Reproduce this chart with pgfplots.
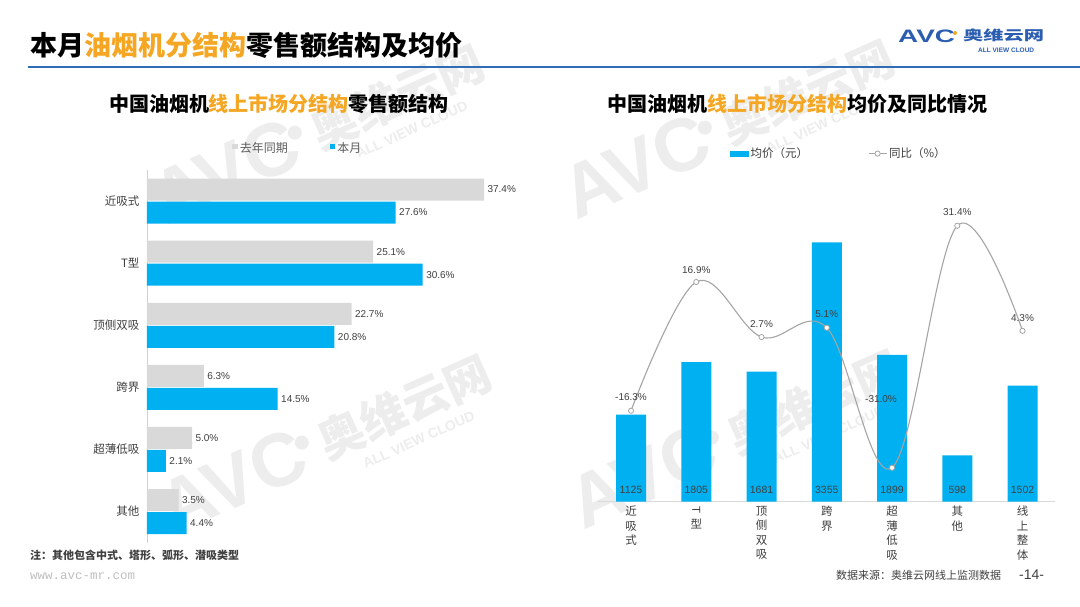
\documentclass[border=0pt]{standalone}
\usepackage{graphicx}
\usepackage{pgfplots}
\pgfplotsset{compat=1.18}
\usepackage{pgfplotstable}
\usepackage{fontspec}
\setmainfont{Noto Sans CJK SC}
\newfontfamily\lat{Liberation Sans}
\newfontfamily\mono{Liberation Mono}
\definecolor{barblue}{HTML}{00B0F0}
\definecolor{bargray}{HTML}{D9D9D9}
\definecolor{orng}{HTML}{F5A623}
\definecolor{lineblue}{HTML}{2E6DB4}
\definecolor{logoblue}{HTML}{2B5DB0}
\definecolor{txt}{HTML}{404040}
\definecolor{linegray}{HTML}{A5A5A5}
\definecolor{wmc}{HTML}{EDEDED}

\pgfplotstableread{
x y dy dx
0 -16.3 6 0
1 16.9 5 0
2 2.7 6 0
3 5.1 6 0
4 -31.0 61 -11
5 31.4 6 0
6 4.3 6 0
}\yoy
\pgfplotstableread{
x v
0 1125
1 1805
2 1681
3 3355
4 1899
5 598
6 1502
}\price

\newcommand{\wm}[2]{%
\begin{scope}[shift={(#1pt,-#2pt)},rotate=24,transform shape]
\node[text=wmc,font=\lat\bfseries\fontsize{75}{75}\selectfont,inner sep=0] at (-52pt,0pt) {AVC};
\fill[wmc] (27pt,7pt) circle (7pt);
\node[text=wmc,font=\bfseries\fontsize{46}{46}\selectfont,inner sep=0] at (135pt,-2pt) {奥维云网};
\node[text=wmc,font=\lat\bfseries\fontsize{14}{14}\selectfont,inner sep=0] at (135pt,-38pt) {ALL VIEW CLOUD};
\end{scope}}

\begin{document}
\begin{tikzpicture}
\fill[white] (0pt,0pt) rectangle (1080pt,-607pt);
\path[use as bounding box] (0pt,0pt) rectangle (1080pt,-607pt);

% watermarks
\wm{280}{460}
\wm{273}{150}
\wm{683}{145}
\wm{690}{455}

% header
\node[anchor=base west, inner sep=0, font=\bfseries\fontsize{27}{27}\selectfont] at (30pt,-56pt) {本月\textcolor{orng}{油烟机分结构}零售额结构及均价};
\draw[lineblue, line width=2.5pt] (28pt,-67pt) -- (1080pt,-67pt);

% logo
\node[anchor=south west, inner sep=0, text=logoblue] at (898pt,-43pt) {\scalebox{1.55}[1]{\lat\bfseries\fontsize{18}{18}\selectfont AVC}};
\fill[orng] (955pt,-33pt) circle (2pt);
\node[anchor=west, inner sep=0, text=logoblue] at (963pt,-35pt) {\scalebox{1.5}[1]{\bfseries\fontsize{13.5}{13.5}\selectfont 奥维云网}};
\node[anchor=west, inner sep=0, text=logoblue, font=\lat\bfseries\fontsize{6.5}{6.5}\selectfont] at (978pt,-50pt) {ALL VIEW CLOUD};

% chart titles
\node[inner sep=0, font=\bfseries\fontsize{20}{20}\selectfont] at (279pt,-104pt) {中国油烟机\textcolor{orng}{线上市场分结构}零售额结构};
\node[inner sep=0, font=\bfseries\fontsize{20}{20}\selectfont] at (797.5pt,-104pt) {中国油烟机\textcolor{orng}{线上市场分结构}均价及同比情况};

% footer
\node[anchor=west, inner sep=0, font=\bfseries\fontsize{11}{11}\selectfont, text=txt] at (30pt,-555pt) {注：其他包含中式、塔形、弧形、潜吸类型};
\node[anchor=west, inner sep=0, font=\mono\fontsize{12.5}{12.5}\selectfont, text=black!25] at (30pt,-576pt) {www.avc-mr.com};
\node[anchor=west, inner sep=0, font=\fontsize{11}{11}\selectfont, text=txt] at (836pt,-575pt) {数据来源：奥维云网线上监测数据};
\node[anchor=west, inner sep=0, font=\lat\fontsize{14}{14}\selectfont, text=txt] at (1019pt,-575pt) {-14-};

% left chart
\begin{axis}[
 at={(147pt,-542.6pt)}, anchor=south west,
 scale only axis, width=405.5pt, height=372.6pt,
 xmin=0, xmax=45, ymin=-0.5, ymax=5.5,
 xbar, bar width=22pt,
 axis y line*=left, axis x line=none,
 y axis line style={draw=black!18, line width=0.8pt},
 ytick={0,1,2,3,4,5}, yticklabels={其他,超薄低吸,跨界,顶侧双吸,T型,近吸式},
 major tick length=0pt,
 yticklabel style={font=\fontsize{11.5}{12}\selectfont, text=txt, xshift=-4pt},
 nodes near coords={\pgfmathprintnumber[fixed,fixed zerofill,precision=1,assume math mode=true]{\pgfplotspointmeta}\%},
 point meta=x,
 every node near coord/.append style={font=\lat\fontsize{10}{10}\selectfont, text=txt},
 clip=false,
 legend style={at={(axis description cs:0.372,1.059)}, anchor=center, draw=none, fill=none,
   legend columns=2, font=\fontsize{12}{12}\selectfont, text=txt!85,
   /tikz/every even column/.append style={column sep=40pt}},
 legend image code/.code={\fill[#1] (0pt,-1.3pt) rectangle (5.6pt,4.3pt);},
]
\addplot[fill=bargray, draw=none, bar shift=11.5pt] coordinates {(37.4,5) (25.1,4) (22.7,3) (6.3,2) (5.0,1) (3.5,0)};
\addlegendentry{去年同期}
\addplot[fill=barblue, draw=none, bar shift=-11.5pt] coordinates {(27.6,5) (30.6,4) (20.8,3) (14.5,2) (2.1,1) (4.4,0)};
\addlegendentry{本月}
\end{axis}

% right chart: bars
\begin{axis}[
 at={(598.4pt,-501.7pt)}, anchor=south west,
 scale only axis, width=456.75pt, height=309.3pt,
 xmin=-0.5, xmax=6.5, ymin=0, ymax=4000,
 axis x line*=bottom, axis y line=none,
 x axis line style={draw=black!15, line width=0.8pt},
 xtick={0,...,6},
 xticklabels={{近\\吸\\式},{\rotatebox[origin=c]{-90}{\lat T}\\型},{顶\\侧\\双\\吸},{跨\\界},{超\\薄\\低\\吸},{其\\他},{线\\上\\整\\体}},
 major tick length=0pt,
 xticklabel style={font=\fontsize{11.5}{14.5}\selectfont, text=txt, align=center, anchor=north, yshift=-1pt},
 clip=false,
 legend style={at={(axis description cs:0.526,1.127)}, anchor=center, draw=none, fill=none,
   legend columns=2, font=\fontsize{11.5}{11.5}\selectfont, text=txt,
   /tikz/every even column/.append style={column sep=58pt}},
]
\addplot[ybar, bar width=30pt, fill=barblue, draw=none,
  legend image code/.code={\fill[barblue] (0pt,-3.5pt) rectangle (19pt,2.5pt);}] table[x=x,y=v] {\price};
\addlegendentry{均价（元）}
\addlegendimage{linegray, legend image code/.code={\draw[linegray, line width=1pt] (0pt,-0.5pt) -- (18pt,-0.5pt); \draw[linegray, fill=white, line width=0.8pt] (9pt,-0.5pt) circle (2.6pt);}}
\addlegendentry{同比（\%）}
\addplot[forget plot, draw=none, mark=none, nodes near coords, point meta=explicit symbolic,
  every node near coord/.append style={font=\lat\fontsize{10.5}{10.5}\selectfont, text=txt, anchor=south, yshift=4.5pt}]
  table[x=x, y expr=0, meta=v] {\price};
\end{axis}

% right chart: line
\begin{axis}[
 at={(598.4pt,-501.7pt)}, anchor=south west,
 scale only axis, width=456.75pt, height=309.3pt,
 xmin=-0.5, xmax=6.5, ymin=-39.76, ymax=40.0,
 hide axis, clip=false,
]
\addplot[smooth, tension=0.6, draw=linegray, line width=1.1pt, mark=*, mark size=2.6pt,
  mark options={fill=white, draw=linegray, line width=0.8pt},
  point meta=y,
  visualization depends on={\thisrow{dy} \as \dy},
  visualization depends on={\thisrow{dx} \as \dx},
  nodes near coords={\pgfmathprintnumber[fixed,fixed zerofill,precision=1,assume math mode=true]{\pgfplotspointmeta}\%},
  every node near coord/.append style={font=\lat\fontsize{10}{10}\selectfont, text=txt, anchor=south, yshift=\dy pt, xshift=\dx pt}]
  table[x=x,y=y] {\yoy};
\end{axis}
\end{tikzpicture}
\end{document}
